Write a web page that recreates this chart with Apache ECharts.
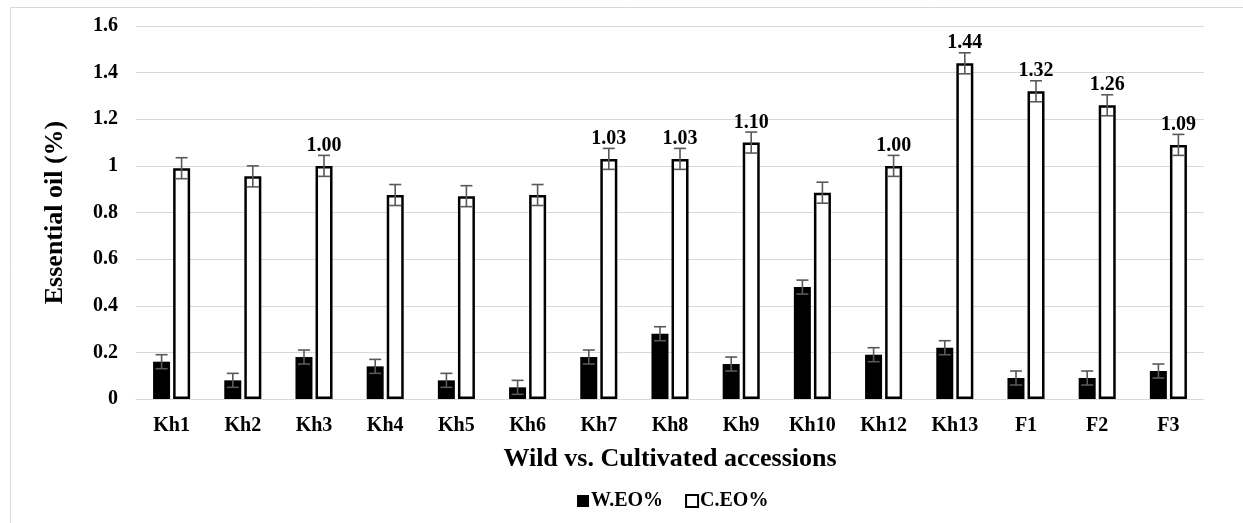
<!DOCTYPE html>
<html lang="en">
<head>
<meta charset="UTF-8">
<title>Essential oil</title>
<script src="https://cdn.jsdelivr.net/npm/echarts@6.0.0/dist/echarts.min.js"></script>
</head>
<body style="margin:0;background:#fff">
<div id="main" style="width:1243px;height:523px;"></div>
<script type="text/javascript">
// data
const categories = ['Kh1', 'Kh2', 'Kh3', 'Kh4', 'Kh5', 'Kh6', 'Kh7', 'Kh8', 'Kh9', 'Kh10', 'Kh12', 'Kh13', 'F1', 'F2', 'F3'];
const wildEO = [0.16, 0.08, 0.18, 0.14, 0.08, 0.05, 0.18, 0.28, 0.15, 0.48, 0.19, 0.22, 0.09, 0.09, 0.12];
const wildErr = [0.03, 0.03, 0.03, 0.03, 0.03, 0.03, 0.03, 0.03, 0.03, 0.03, 0.03, 0.03, 0.03, 0.03, 0.03];
const cultEO = [0.99, 0.955, 1.00, 0.875, 0.87, 0.875, 1.03, 1.03, 1.10, 0.885, 1.00, 1.44, 1.32, 1.26, 1.09];
const cultErr = [0.045, 0.045, 0.045, 0.045, 0.045, 0.045, 0.045, 0.045, 0.045, 0.045, 0.045, 0.045, 0.045, 0.045, 0.045];
// which C.EO bars carry a value label
const cultLabelled = [false, false, true, false, false, false, true, true, true, false, true, true, true, true, true];

const font = 'Liberation Serif';

let myChart = echarts.init(document.getElementById('main'));

// error bar series, shifted sideways to sit on its own bar
function errorSeries(name, values, errs, shift) {
  return {
    name: name + ' err',
    type: 'custom',
    z: 10,
    silent: true,
    data: values.map((v, i) => [i, v - errs[i], v + errs[i]]),
    renderItem: function (params, api) {
      const lo = api.coord([api.value(0), api.value(1)]);
      const hi = api.coord([api.value(0), api.value(2)]);
      const x = lo[0] + shift;
      const half = 6;
      const style = { stroke: '#595959', lineWidth: 1.6 };
      return {
        type: 'group',
        children: [
          { type: 'line', shape: { x1: x, y1: hi[1], x2: x, y2: lo[1] }, style: style },
          { type: 'line', shape: { x1: x - half, y1: hi[1], x2: x + half, y2: hi[1] }, style: style },
          { type: 'line', shape: { x1: x - half, y1: lo[1], x2: x + half, y2: lo[1] }, style: style }
        ]
      };
    }
  };
}

let options = {
  animation: false,
  textStyle: { fontFamily: font },
  graphic: [{
    type: 'rect',
    shape: { x: 10.5, y: 7.5, width: 1300, height: 600 },
    style: { fill: null, stroke: '#d9d9d9', lineWidth: 1 },
    silent: true
  }],
  grid: { left: 136, right: 39, top: 26, bottom: 124 },
  legend: {
    data: ['W.EO%', 'C.EO%'],
    icon: 'rect',
    left: 572,
    top: 486,
    itemWidth: 12,
    itemHeight: 12,
    itemGap: 22,
    textStyle: { fontFamily: font, fontWeight: 'bold', fontSize: 20, color: '#000', padding: [0, 0, 0, -3] }
  },
  xAxis: {
    type: 'category',
    data: categories,
    name: 'Wild vs. Cultivated accessions',
    nameLocation: 'middle',
    nameGap: 47,
    nameTextStyle: { fontFamily: font, fontWeight: 'bold', fontSize: 26, color: '#000' },
    axisTick: { show: false },
    axisLine: { lineStyle: { color: '#d9d9d9', width: 1 } },
    axisLabel: { fontFamily: font, fontWeight: 'bold', fontSize: 20, color: '#000', margin: 17 }
  },
  yAxis: {
    type: 'value',
    min: 0,
    max: 1.6,
    interval: 0.2,
    name: 'Essential oil (%)',
    nameLocation: 'middle',
    nameGap: 68,
    nameTextStyle: { fontFamily: font, fontWeight: 'bold', fontSize: 26, color: '#000' },
    axisLine: { show: false },
    axisTick: { show: false },
    splitLine: { lineStyle: { color: '#d9d9d9', width: 1 } },
    axisLabel: {
      fontFamily: font, fontWeight: 'bold', fontSize: 20, color: '#000', margin: 18,
      formatter: v => String(Math.round(v * 10) / 10)
    }
  },
  series: [
    {
      name: 'W.EO%',
      type: 'bar',
      barWidth: 17,
      barGap: '18%',
      itemStyle: { color: '#000' },
      data: wildEO
    },
    {
      name: 'C.EO%',
      type: 'bar',
      barWidth: 17,
      itemStyle: { color: '#fff', borderColor: '#000', borderWidth: 2.5 },
      data: cultEO.map((v, i) => ({
        value: v,
        label: {
          show: cultLabelled[i],
          position: 'top',
          distance: 10,
          formatter: p => p.value.toFixed(2),
          fontFamily: font, fontWeight: 'bold', fontSize: 20, color: '#000'
        }
      }))
    },
    errorSeries('W.EO%', wildEO, wildErr, -10),
    errorSeries('C.EO%', cultEO, cultErr, 10)
  ]
};

myChart.setOption(options);
</script>
</body>
</html>
